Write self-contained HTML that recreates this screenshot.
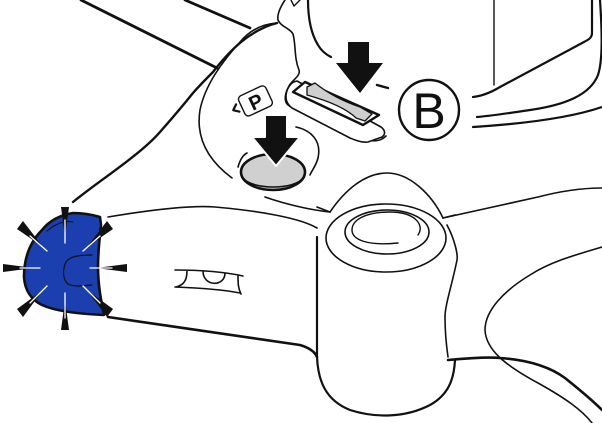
<!DOCTYPE html>
<html><head><meta charset="utf-8"><style>
html,body{margin:0;padding:0;background:#fff;width:602px;height:423px;overflow:hidden}
svg{display:block}
</style></head><body>
<svg width="602" height="423" viewBox="0 0 602 423" xmlns="http://www.w3.org/2000/svg" fill="none" stroke="#111" stroke-linecap="round" stroke-linejoin="round">
<!-- top-left lines -->
<path d="M81,0 L217,68" stroke-width="2.8"/>
<path d="M185,0 L250,28" stroke-width="2.8"/>
<!-- left arm upper edge -->
<path d="M73,202 C100,180 140,155 160,132 C175,115 185,103 193,93 C200,85 207,78 213,72 C230,50 250,30 277,23" stroke-width="2.4"/>
<!-- shell -->
<path d="M277,23 C262,24 250,30 240,42 C222,62 205,85 200,110 C196,135 205,158 232,178" stroke-width="1.6"/>
<!-- stem -->
<path d="M285,0 C281,6 277,14 278,20 C281,27 290,28 293,34 C296,45 294,58 299,70 C301,76 292,80 289,86 C285,93 284,100 287,104 C292,110 340,130 369,140 C376,142 382,140 386,136" stroke-width="1.6"/>
<path d="M291,0 L294,6 L300,0" stroke-width="1.4"/>
<path d="M308,0 C308,15 310,32 318,45 C322,52 327,55 331,57" stroke-width="2.2"/>
<!-- right body -->
<path d="M494,0 L494,85" stroke-width="1.4"/>
<path d="M592,0 L592,33 C592,38 588,40 584,42 L500,87 C490,93 482,96 473,97" stroke-width="2.2"/>
<path d="M600,0 C602,30 603,60 598,75 C590,95 565,105 530,110 C510,113 490,116 477,117" stroke-width="2.2"/>
<path d="M473,127 C520,124 570,118 602,107" stroke-width="2.2"/>
<!-- B circle -->
<circle cx="429" cy="110" r="30" stroke-width="2.4"/>
<text x="429" y="128" font-family="Liberation Sans, sans-serif" font-size="50" fill="#111" stroke="none" text-anchor="middle">B</text>
<!-- dash -->
<path d="M377,85 L388,88" stroke-width="2.4"/>
<!-- switch -->
<path d="M286,97 C286,90 290,82 297,81 L381,127 C385,130 386,134 382,137 L368,142 C362,143 355,140 350,138 L292,108 C288,105 286,101 286,97 Z" stroke-width="1.6" fill="#fff"/>
<path d="M293,92 L305,82 L379,115 L363,125 Z" stroke-width="2.4" fill="#fff"/>
<path d="M307,87 L315,83 C330,95 345,102 360,107 L372,114 L365,121 L356,118 C345,107 325,100 307,95 Z" fill="#cfcfcf" stroke-width="1.3"/>
<!-- <P badge -->
<g transform="rotate(-25 255 100)">
<rect x="240" y="90" width="30" height="22" rx="4" stroke-width="1.4" fill="#fff"/>
<text x="255" y="109" font-family="Liberation Sans, sans-serif" font-weight="bold" font-size="20" fill="#111" stroke="none" text-anchor="middle">P</text>
<path d="M236,96 L231,100 L236,104" stroke-width="2.2"/>
</g>
<!-- button -->
<path d="M296,127 C310,130 322,140 318,158 C316,166 312,170 310,175" stroke-width="1.6"/>
<path d="M238,167 C240,160 243,155 247,153" stroke-width="1.6"/>
<ellipse cx="273" cy="172" rx="32" ry="18" fill="#d0d0d0" stroke-width="2.6"/>
<path d="M243,178 C252,190 295,190 303,178" stroke-width="1.6"/>
<!-- arrows -->
<path d="M348,42 L369,42 L369,63 L383,63 L360,93 L336,63 L348,63 Z" fill="#111" stroke="none"/>
<path d="M265,115 L287,115 L287,137 L300,137 L276,166 L252,137 L265,137 Z" fill="#111" stroke="#fff" stroke-width="2"/>
<!-- lower line under button -->
<path d="M265,197 C285,204 310,210 330,212" stroke-width="1.6"/>
<!-- left arm -->
<path d="M108,217 C150,210 190,205 215,207 C260,211 300,218 317,228" stroke-width="1.6"/>
<path d="M108,317 C170,326 250,338 300,345 C310,348 315,352 317,357" stroke-width="2.6"/>
<!-- marking -->
<path d="M175,270 C200,270 225,272 243,276 M175,287 C200,288 225,290 240,293 M187,271 C187,280 184,285 176,287 M203,271 C203,287 225,287 225,273 M238,275 C238,283 238,288 241,294" stroke-width="1.6"/>
<!-- hub -->
<path d="M330,212 C345,190 365,173 387,173 C410,173 432,195 443,218" stroke-width="1.6"/>
<path d="M330,212 L317,207 M443,218 L455,215" stroke-width="1.6"/>
<ellipse cx="386" cy="238" rx="60" ry="34" stroke-width="1.6"/>
<ellipse cx="387" cy="232" rx="42" ry="22" stroke-width="1.6"/>
<path d="M418,235 C425,225 415,212 390,212 C365,212 352,220 352,230 C352,240 368,246 398,243" stroke-width="1.4"/>
<path d="M317,237 L317,357 C318,380 325,400 350,410 C375,418 405,418 430,405 C448,395 454,380 455,360" stroke-width="2.2"/>
<path d="M447,225 C455,240 458,255 457,260 C452,285 445,305 445,317 C445,335 447,350 448,357" stroke-width="1.6"/>
<!-- right arm -->
<path d="M443,218 C480,210 510,203 538,197 C565,190 585,188 602,188" stroke-width="1.6"/>
<path d="M448,360 C470,358 490,357 500,358 C530,360 550,367 565,378 C580,390 592,400 602,410" stroke-width="2.6"/>
<path d="M602,247 C575,255 550,262 530,275 C505,290 485,310 485,330 C486,350 505,365 538,383 C565,398 582,410 592,423" stroke-width="1.6"/>
<!-- blue light -->
<path d="M100,217 C90,214 80,213 73,213 C60,215 50,220 42,230 C30,242 24,258 24,277 C25,292 32,300 42,305 C55,311 80,314 104,315 C101,300 98,285 98,267 C98,250 100,235 101,225 Z" fill="#1b3fae" stroke="#111" stroke-width="2.6"/>
<path d="M92,255 C80,255 70,256 66,262 C62,270 63,280 68,284 C74,287 82,286 92,285" stroke="#111" stroke-width="1.2"/>
<path d="M47,231 C55,224 65,220 73,222" stroke="#111" stroke-width="1"/>
<!-- spikes -->
<g fill="#111" stroke="none">
<polygon points="61,207 69,207 65,237"/>
<polygon points="61,330 69,330 65,300"/>
<polygon points="3,264 3,272 34,268"/>
<polygon points="127,264 127,272 96,268"/>
<polygon points="17,229 23,221 43,247"/>
<polygon points="107,221 113,229 87,247"/>
<polygon points="17,309 23,317 43,290"/>
<polygon points="107,317 113,309 87,290"/>
</g>
<g stroke="#fff" stroke-width="1.3">
<path d="M65,220 L65,243 M65,293 L65,318 M20,268 L40,268 M90,268 L112,268 M30,236 L47,251 M100,236 L83,251 M30,303 L47,286 M100,303 L83,286"/>
</g>
</svg>
</body></html>
